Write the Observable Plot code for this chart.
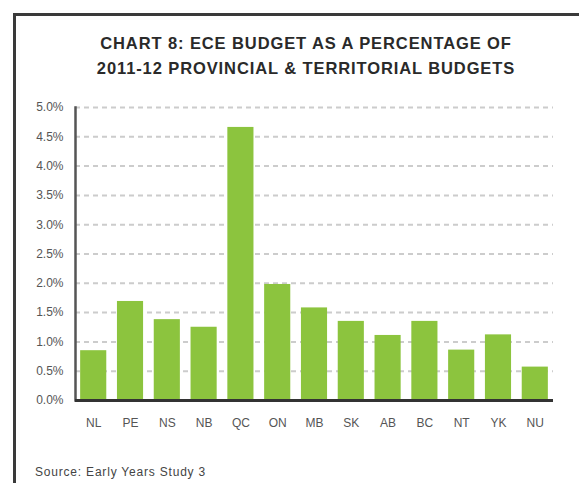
<!DOCTYPE html>
<html>
<head>
<meta charset="utf-8">
<script src="https://cdn.jsdelivr.net/npm/d3@7"></script>
<script src="https://cdn.jsdelivr.net/npm/@observablehq/plot@0.6"></script>
<style>
  html, body { margin: 0; padding: 0; background: #fff; }
  #wrap { position: relative; width: 579px; height: 483px; overflow: hidden; font-family: "Liberation Sans", Arial, sans-serif; }
  #frame { position: absolute; left: 13px; top: 13px; width: 620px; height: 520px; border-left: 3px solid #3a3a3a; border-top: 3px solid #3a3a3a; box-sizing: border-box; }
  #title { position: absolute; left: 0; top: 31px; width: 612px; text-align: center; font-weight: bold; font-size: 16.5px; line-height: 24.5px; color: #2a2a2a; letter-spacing: 0.9px; }
  #source { position: absolute; left: 35px; top: 464px; font-size: 12px; line-height: 16px; color: #444; letter-spacing: 0.8px; }
  #chart { position: absolute; left: 0; top: 0; }
</style>
</head>
<body>
<div id="wrap">
  <div id="frame"></div>
  <div id="title">CHART 8: ECE BUDGET AS A PERCENTAGE OF<br>2011-12 PROVINCIAL &amp; TERRITORIAL BUDGETS</div>
  <div id="chart"></div>
  <div id="source">Source: Early Years Study 3</div>
</div>
<script>
const provinces = ["NL","PE","NS","NB","QC","ON","MB","SK","AB","BC","NT","YK","NU"];
const shares = [0.0085,0.0169,0.0138,0.0125,0.0466,0.0198,0.0158,0.0135,0.0111,0.0135,0.0086,0.0112,0.0057];
const yTicks = [0,0.005,0.01,0.015,0.02,0.025,0.03,0.035,0.04,0.045,0.05];
const gridTicks = yTicks.slice(1);

const data = provinces.map((p, i) => ({province: p, share: shares[i]}));

const chart = Plot.plot({
  width: 579,
  height: 483,
  marginTop: 107,
  marginBottom: 83,
  marginLeft: 75,
  marginRight: 26,
  style: {fontFamily: "'Liberation Sans', Arial, sans-serif", background: "transparent", overflow: "visible"},
  x: {domain: provinces, paddingInner: 0.29, paddingOuter: 0.14, round: false, label: null},
  y: {domain: [0, 0.05], label: null},
  marks: [
    Plot.ruleY(gridTicks, {stroke: "#cccccc", strokeWidth: 2, strokeDasharray: "5,4"}),
    Plot.barY(data, {x: "province", y: "share", fill: "#8cc43e"}),
    Plot.axisY({ticks: yTicks, tickFormat: d3.format(".1%"), tickSize: 0, tickPadding: 12, fontSize: 12, fill: "#555", label: null, style: "letter-spacing: 1px"}),
    Plot.axisX({tickSize: 0, tickPadding: 18, fontSize: 12, fill: "#555", label: null, style: "letter-spacing: 1px"}),
    Plot.frame({anchor: "left", stroke: "#555", strokeWidth: 2.5}),
    Plot.ruleY([0], {stroke: "#333", strokeWidth: 3})
  ]
});
document.getElementById("chart").appendChild(chart);
</script>
</body>
</html>
